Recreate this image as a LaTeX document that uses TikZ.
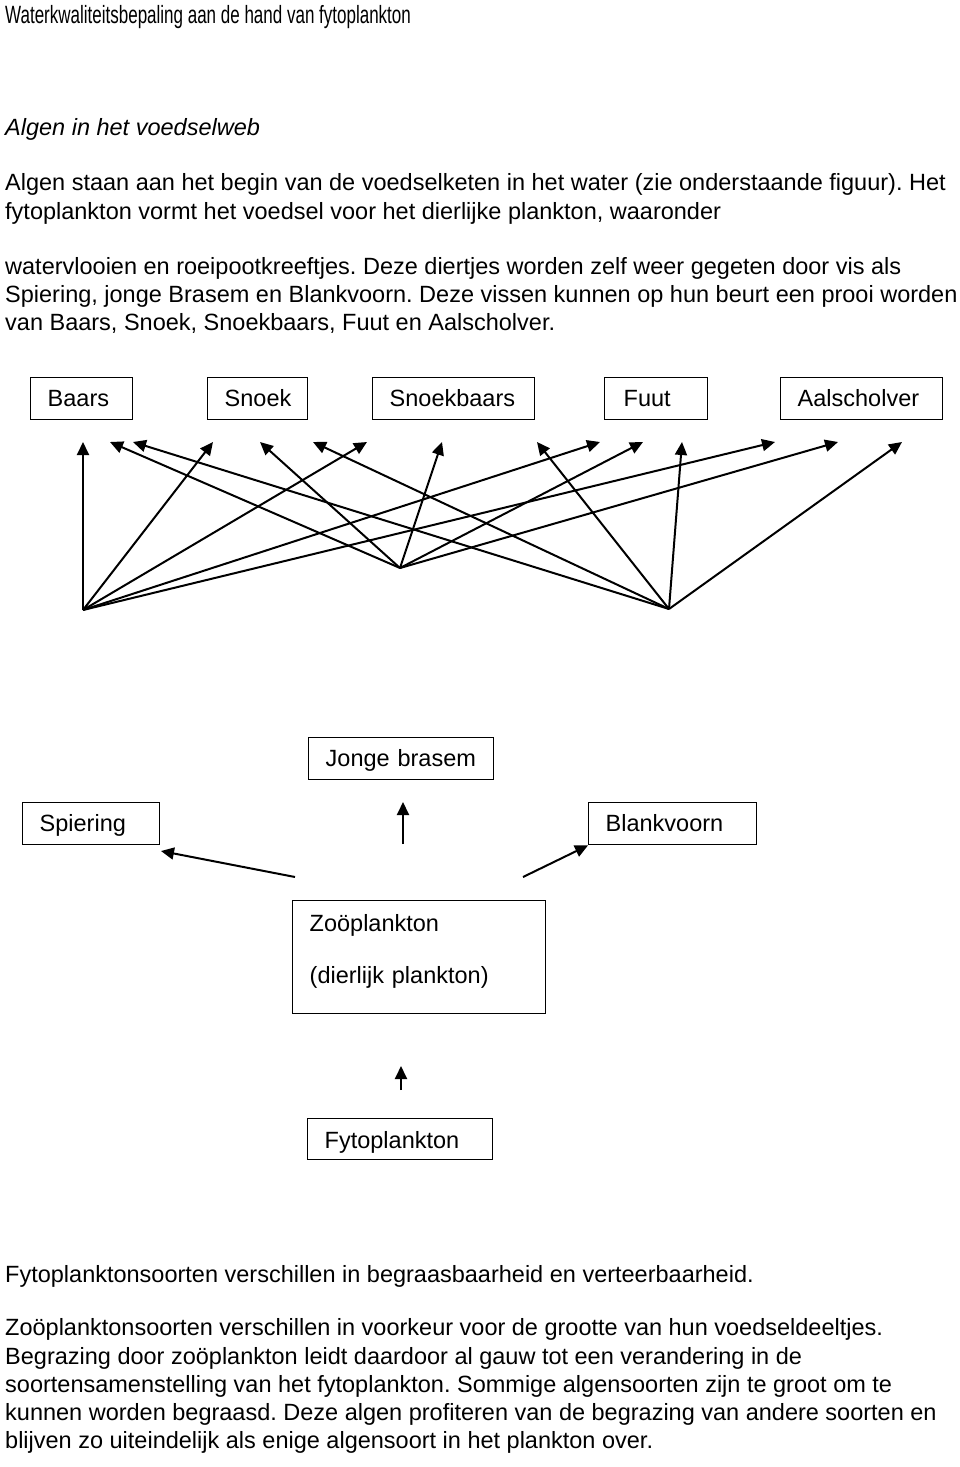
\documentclass[tikz,border=0pt]{standalone}
\usepackage{fontspec}
\setmainfont{Liberation Sans}
\newfontfamily\titelfont[FakeStretch=0.68]{Liberation Sans}
\usetikzlibrary{arrows.meta}

\newcommand{\tekst}{\fontsize{23.5}{28.5}\selectfont}
\frenchspacing

\tikzset{
  vis/.style={draw, line width=1.4pt, anchor=north west, inner xsep=17pt, inner ysep=0pt,
              text height=29pt, text depth=13pt, align=left, font=\tekst},
  pijl/.style={line width=2pt, -{Triangle[length=13pt,width=12pt]}},
  regel/.style={anchor=base west, inner sep=0pt, font=\tekst},
}

\begin{document}
\begin{tikzpicture}[x=1pt,y=-1pt]

\useasboundingbox (0,0) rectangle (960,1467);

% titel en inleiding
\node[anchor=base west, inner sep=0pt, font=\titelfont\fontsize{25}{25}\selectfont] (titel) at (5,23)
   {Waterkwaliteitsbepaling aan de hand van fytoplankton};
\node[regel, font=\tekst\itshape] (kop) at (5,135) {Algen in het voedselweb};

\foreach \y/\zin [count=\i] in {%
   190/{Algen staan aan het begin van de voedselketen in het water (zie onderstaande figuur). Het},
   219/{fytoplankton vormt het voedsel voor het dierlijke plankton, waaronder},
   274/{watervlooien en roeipootkreeftjes. Deze diertjes worden zelf weer gegeten door vis als},
   302/{Spiering, jonge Brasem en Blankvoorn. Deze vissen kunnen op hun beurt een prooi worden},
   330/{van Baars, Snoek, Snoekbaars, Fuut en Aalscholver.}}{%
  \node[regel] (intro\i) at (5,\y) {\zin};
}

% rovers
\node[vis, text width=68pt] (baars) at (30,377) {Baars};
\node[vis, text width=66pt] (snoek) at (207,377) {Snoek};
\node[vis, text width=128pt] (snoekbaars) at (372,377) {Snoekbaars};
\node[vis, inner xsep=19pt, text width=65pt] (fuut) at (604,377) {Fuut};
\node[vis, text width=128pt] (aalscholver) at (780,377) {Aalscholver};

% vissen
\node[vis, text width=151pt] (brasem) at (308,737) {Jonge brasem};
\node[vis, text width=103pt] (spiering) at (22,802) {Spiering};
\node[vis, text width=134pt] (voorn) at (588,802) {Blankvoorn};

% plankton
\node[vis, text width=219pt, text height=31pt, text depth=82pt] (zoo) at (292,900)
   {Zoöplankton\\[23.5pt](dierlijk plankton)};
\node[vis, text width=151pt, text height=30pt, text depth=11pt] (fyto) at (307,1118) {Fytoplankton};

% pijlen naar de rovers
\coordinate (spiering-voet) at (83,610);
\coordinate (brasem-voet) at (400,568);
\coordinate (voorn-voet) at (669,609);

\foreach \naam/\a/\b/\c in {baars/83/110/133, snoek/213/260/313, snoekbaars/367/442/537,
                           fuut/600/643/682, aalscholver/775/838/902}{%
  \coordinate (\naam-sp) at (\a,442);
  \coordinate (\naam-br) at (\b,442);
  \coordinate (\naam-vo) at (\c,442);
  \draw[pijl] (spiering-voet) -- (\naam-sp);
  \draw[pijl] (brasem-voet) -- (\naam-br);
  \draw[pijl] (voorn-voet) -- (\naam-vo);
}

% pijlen vanaf het zooplankton
\coordinate (zoo-links) at (295,877);
\coordinate (zoo-rechts) at (523,877);
\coordinate (zoo-midden) at (403,844);
\coordinate (spiering-punt) at (161,851);
\coordinate (brasem-punt) at (403,802);
\draw[pijl] (zoo-links) -- (spiering-punt);
\draw[pijl] (zoo-midden) -- (brasem-punt);
\draw[pijl] (zoo-rechts) -- (voorn.south west);

\coordinate (fyto-voet) at (401,1090);
\coordinate (fyto-punt) at (401,1066);
\draw[pijl] (fyto-voet) -- (fyto-punt);

% slot
\foreach \y/\zin [count=\i] in {%
   1282/{Fytoplanktonsoorten verschillen in begraasbaarheid en verteerbaarheid.},
   1335/{Zoöplanktonsoorten verschillen in voorkeur voor de grootte van hun voedseldeeltjes.},
   1364/{Begrazing door zoöplankton leidt daardoor al gauw tot een verandering in de},
   1392/{soortensamenstelling van het fytoplankton. Sommige algensoorten zijn te groot om te},
   1420/{kunnen worden begraasd. Deze algen profiteren van de begrazing van andere soorten en},
   1448/{blijven zo uiteindelijk als enige algensoort in het plankton over.}}{%
  \node[regel] (slot\i) at (5,\y) {\zin};
}

\end{tikzpicture}
\end{document}
